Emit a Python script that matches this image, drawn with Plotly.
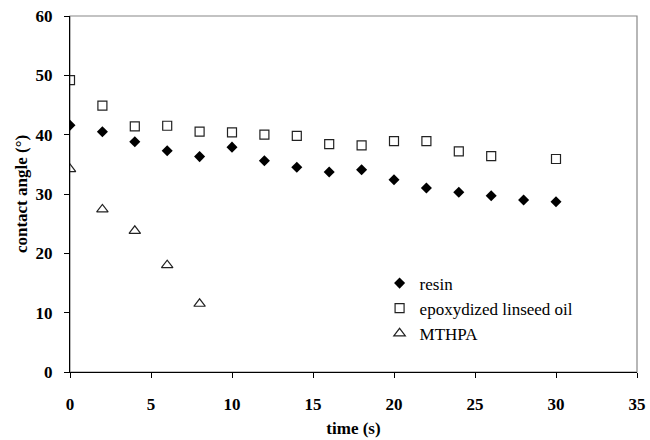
import plotly.graph_objects as go

time_resin = [0, 2, 4, 6, 8, 10, 12, 14, 16, 18, 20, 22, 24, 26, 28, 30]
resin = [41.6, 40.5, 38.8, 37.3, 36.3, 37.9, 35.6, 34.5, 33.7, 34.1, 32.4, 31.0, 30.3, 29.7, 29.0, 28.7]

time_elo = [0, 2, 4, 6, 8, 10, 12, 14, 16, 18, 20, 22, 24, 26, 30]
elo = [49.2, 44.9, 41.4, 41.5, 40.5, 40.4, 40.0, 39.8, 38.4, 38.2, 38.9, 38.9, 37.2, 36.4, 35.9]

time_mthpa = [0, 2, 4, 6, 8]
mthpa = [34.2, 27.4, 23.8, 18.0, 11.5]

x_ticks = [0, 5, 10, 15, 20, 25, 30, 35]
y_ticks = [0, 10, 20, 30, 40, 50, 60]

FONT = "Liberation Serif"

fig = go.Figure()
fig.add_trace(go.Scatter(x=time_resin, y=resin, mode="markers", name="resin",
                         marker=dict(symbol="diamond", size=8.5, color="black",
                                     line=dict(width=0))))
fig.add_trace(go.Scatter(x=time_elo, y=elo, mode="markers", name="epoxydized linseed oil",
                         marker=dict(symbol="square-open", size=9, color="#222",
                                     line=dict(width=1.2, color="#222"))))
fig.add_trace(go.Scatter(x=time_mthpa, y=mthpa, mode="markers", name="MTHPA",
                         marker=dict(symbol="triangle-up-open", size=10, color="#222",
                                     line=dict(width=1.2, color="#222"))))

fig.add_shape(type="rect", xref="paper", yref="paper", x0=0, y0=0, x1=1, y1=1,
              line=dict(color="#888", width=1.2), layer="below")

fig.update_layout(
    width=650, height=440,
    margin=dict(l=70, r=13, t=16, b=68),
    paper_bgcolor="white", plot_bgcolor="white",
    font=dict(family=FONT, color="black", size=16),
    showlegend=True,
    legend=dict(x=0.546, y=0.299, xanchor="left", yanchor="top",
                bgcolor="rgba(0,0,0,0)", font=dict(family=FONT, size=17),
                itemwidth=30, tracegroupgap=0),
    xaxis=dict(range=[0, 35], tickvals=x_ticks, showgrid=False, zeroline=False,
               showline=True, linecolor="black", linewidth=1.2,
               ticks="outside", ticklen=5, tickcolor="black", automargin=False,
               tickfont=dict(family=FONT, size=17, color="black", weight="bold"),
               ticklabelstandoff=11,
               title=dict(text="<b>time (s)</b>", font=dict(family=FONT, size=17),
                          standoff=9)),
    yaxis=dict(range=[0, 60], tickvals=y_ticks, showgrid=False, zeroline=False,
               showline=True, linecolor="black", linewidth=1.2,
               ticks="outside", ticklen=5, tickcolor="black", automargin=False,
               tickfont=dict(family=FONT, size=17, color="black", weight="bold"),
               ticklabelstandoff=8,
               title=dict(text="<b>contact angle (°)</b>", font=dict(family=FONT, size=17),
                          standoff=3)),
)

fig.write_html("out.html")
